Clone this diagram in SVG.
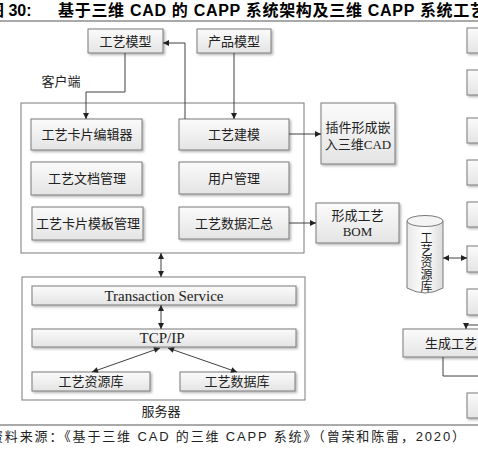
<svg xmlns="http://www.w3.org/2000/svg" width="478" height="449" viewBox="0 0 478 449">
<style>
.bx{fill:url(#g);stroke:#7a7a7a;stroke-width:1;filter:url(#sh)}
.ct{fill:#fff;stroke:#7a7a7a;stroke-width:1}
.t{font-family:"Liberation Serif","Noto Sans CJK SC",serif;font-size:13px;fill:#222;text-anchor:middle}
.lt{font-family:"Liberation Serif","Noto Sans CJK SC",serif;font-size:15px;fill:#222;text-anchor:middle}
.c{fill:none;stroke:#404040;stroke-width:1}
.hd{font-family:"Liberation Sans","Noto Sans CJK SC",sans-serif;font-size:16px;font-weight:bold;fill:#000}
.ft{font-family:"Liberation Sans","Noto Sans CJK SC",sans-serif;font-size:13px;fill:#222}
</style>
<defs>
<linearGradient id="g" x1="0" y1="0" x2="0" y2="1"><stop offset="0" stop-color="#fbfbfb"/><stop offset="1" stop-color="#e4e4e4"/></linearGradient>
<linearGradient id="cg" x1="0" y1="0" x2="1" y2="0"><stop offset="0" stop-color="#e8e8e8"/><stop offset="0.5" stop-color="#ffffff"/><stop offset="1" stop-color="#dcdcdc"/></linearGradient>
<filter id="sh" x="-10%" y="-20%" width="130%" height="150%"><feDropShadow dx="1.5" dy="1.5" stdDeviation="0.8" flood-color="#000" flood-opacity="0.3"/></filter>
<marker id="a" viewBox="0 0 10 10" refX="10" refY="5" markerWidth="7" markerHeight="6" markerUnits="userSpaceOnUse" orient="auto-start-reverse"><path d="M0,0L10,5L0,10z" fill="#222"/></marker>
</defs>

<g id="title">
<text class="hd" x="-12" y="16">图 30:</text>
<text class="hd" x="58" y="16" textLength="428" lengthAdjust="spacing">基于三维 CAD 的 CAPP 系统架构及三维 CAPP 系统工艺</text>
<line x1="0" y1="21" x2="478" y2="21" stroke="#555" stroke-width="1"/>
</g>

<g id="client-container"><rect class="ct" x="21" y="103" width="283" height="150"/><text class="t" x="61" y="86">客户端</text></g>
<g id="server-container"><rect class="ct" x="22" y="277" width="283" height="123"/><text class="t" x="161" y="416">服务器</text></g>

<g id="n-gymx"><rect class="bx" x="88" y="29" width="75" height="24"/><text class="t" x="125.5" y="46">工艺模型</text></g>
<g id="n-cpmx"><rect class="bx" x="197" y="29" width="74" height="24"/><text class="t" x="234" y="46">产品模型</text></g>

<g id="n-kpbj"><rect class="bx" x="31" y="119" width="111" height="31"/><text class="t" x="87" y="139">工艺卡片编辑器</text></g>
<g id="n-wdgl"><rect class="bx" x="31" y="162" width="111" height="33"/><text class="t" x="87" y="183">工艺文档管理</text></g>
<g id="n-mbgl"><rect class="bx" x="32" y="207" width="111" height="33"/><text class="t" x="88" y="228">工艺卡片模板管理</text></g>
<g id="n-gyjm"><rect class="bx" x="179" y="119" width="110" height="31"/><text class="t" x="234" y="139">工艺建模</text></g>
<g id="n-yhgl"><rect class="bx" x="179" y="162" width="110" height="32"/><text class="t" x="234" y="183">用户管理</text></g>
<g id="n-sjhz"><rect class="bx" x="179" y="207" width="110" height="32"/><text class="t" x="234" y="228">工艺数据汇总</text></g>

<g id="n-cj"><rect class="bx" x="321" y="103" width="74" height="61"/><text class="t" x="358" y="132">插件形成嵌</text><text class="t" x="358" y="149">入三维CAD</text></g>
<g id="n-bom"><rect class="bx" x="316" y="203" width="83" height="40"/><text class="t" x="357.5" y="220">形成工艺</text><text class="t" x="357.5" y="236">BOM</text></g>

<g id="n-ts"><rect class="bx" x="32" y="286" width="264" height="19"/><text class="lt" x="164" y="300.5">Transaction Service</text></g>
<g id="n-tcp"><rect class="bx" x="32" y="329" width="264" height="18"/><text class="lt" x="162" y="343">TCP/IP</text></g>
<g id="n-zyk"><rect class="bx" x="32" y="372" width="118" height="19"/><text class="t" x="91" y="386">工艺资源库</text></g>
<g id="n-sjk"><rect class="bx" x="180" y="372" width="115" height="19"/><text class="t" x="237" y="386">工艺数据库</text></g>

<g id="n-cyl">
<path d="M407,221 L407,288 Q425,298 443,288 L443,221" fill="url(#cg)" stroke="#7a7a7a"/>
<ellipse cx="425" cy="221" rx="18" ry="5.5" fill="#f4f4f4" stroke="#7a7a7a"/>
<text class="t" x="425" y="232" style="writing-mode:vertical-rl;text-anchor:start;font-size:12px">工艺资源库</text>
</g>

<g id="n-r1"><rect class="bx" x="467" y="28" width="30" height="25"/></g>
<g id="n-r2"><rect class="bx" x="467" y="70" width="30" height="25"/></g>
<g id="n-r3"><rect class="bx" x="467" y="118" width="30" height="25"/></g>
<g id="n-r4"><rect class="bx" x="467" y="160" width="30" height="25"/></g>
<g id="n-r5"><rect class="bx" x="467" y="202" width="30" height="25"/></g>
<g id="n-r6"><rect class="bx" x="467" y="246" width="30" height="26"/></g>
<g id="n-r7"><rect class="bx" x="467" y="289" width="30" height="26"/></g>
<g id="n-sc"><rect class="bx" x="403" y="329" width="100" height="28"/><text class="t" x="425" y="348" style="text-anchor:start">生成工艺</text></g>
<g id="n-r8"><rect class="bx" x="467" y="393" width="30" height="25"/></g>

<g id="connectors">
<path class="c" d="M125,53 V92 H86 V119" marker-end="url(#a)"/>
<path class="c" d="M234,53 V119" marker-end="url(#a)"/>
<path class="c" d="M185,119 V43 H163" marker-end="url(#a)"/>
<path class="c" d="M289,134 H321" marker-end="url(#a)"/>
<path class="c" d="M289,223 H316" marker-end="url(#a)"/>
<path class="c" d="M161,253 V277" marker-start="url(#a)" marker-end="url(#a)"/>
<path class="c" d="M161,305 V329" marker-start="url(#a)" marker-end="url(#a)"/>
<path class="c" d="M160,348 L92,372" marker-start="url(#a)" marker-end="url(#a)"/>
<path class="c" d="M168,348 L237,372" marker-start="url(#a)" marker-end="url(#a)"/>
<path class="c" d="M443,258 H467" marker-start="url(#a)" marker-end="url(#a)"/>
<path class="c" d="M478,325 H466 V329" marker-end="url(#a)"/>
<path class="c" d="M443,357 V376 H478"/>
</g>

<g id="footer">
<line x1="0" y1="425" x2="478" y2="425" stroke="#555" stroke-width="1"/>
<text class="ft" x="-10" y="441" textLength="475" lengthAdjust="spacing">资料来源：《基于三维 CAD 的三维 CAPP 系统》（曾荣和陈雷，2020）</text>
</g>
</svg>
